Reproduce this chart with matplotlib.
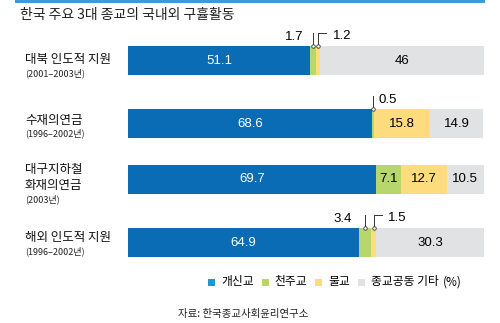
import matplotlib
matplotlib.use("Agg")
import matplotlib.pyplot as plt
from matplotlib.patches import Rectangle

plt.rcParams['font.family'] = ['Noto Sans CJK KR', 'DejaVu Sans']

W, H = 500, 323

title = "한국 주요 3대 종교의 국내외 구휼활동"
categories = ["대북 인도적 지원", "수재의연금", "대구지하철\n화재의연금", "해외 인도적 지원"]
periods = ["(2001–2003년)", "(1996–2002년)", "(2003년)", "(1996–2002년)"]
series = ["개신교", "천주교", "불교", "종교공동 기타"]
protestant = [51.1, 68.6, 69.7, 64.9]
catholic = [1.7, 0.5, 7.1, 3.4]
buddhist = [1.2, 15.8, 12.7, 1.5]
other = [46, 14.9, 10.5, 30.3]
source = "자료: 한국종교사회윤리연구소"

colors = ["#0a6cb4", "#b7d66c", "#fddc7d", "#e1e2e4"]
legend_colors = ["#1b97dc", "#b7d66c", "#fddc7d", "#e1e2e4"]
num_font = ['Liberation Sans', 'DejaVu Sans']

fig = plt.figure(figsize=(W / 100, H / 100), dpi=100)

def fx(px):
    return px / W

def fy(py):
    return 1 - py / H

# bar area: pixel rows, x spans 0..100 %
ax = fig.add_axes([fx(128), 0, fx(484) - fx(128), 1])
ax.set_xlim(0, 100)
ax.set_ylim(H, 0)
ax.axis("off")

centers = [60.5, 123.5, 179, 242.5]
bar_h = 29

data = [protestant, catholic, buddhist, other]
for i, c in enumerate(centers):
    left = 0
    for j, vals in enumerate(data):
        v = vals[i]
        ax.barh(c, v, left=left, height=bar_h, color=colors[j], linewidth=0)
        left += v

# labels inside the segments
def inside(i, j, txt_color="black"):
    left = sum(data[k][i] for k in range(j))
    ax.text(left + data[j][i] / 2, centers[i] + 0.5, f"{data[j][i]:g}",
            ha="center", va="center", fontsize=9.5, color=txt_color,
            family=num_font)

for i in range(4):
    inside(i, 0, "white")
    inside(i, 3)
inside(1, 2)
inside(2, 1)
inside(2, 2)

# callouts for thin segments
def seg_mid(i, j):
    return sum(data[k][i] for k in range(j)) + data[j][i] / 2

def straight(i, j, lx, ha):
    x = seg_mid(i, j)
    y0 = centers[i] - bar_h / 2
    ax.plot([x, x], [y0 - 13, y0], color="#333333", lw=0.7)
    ax.plot(x, y0, "o", ms=2.5, mfc="white", mec="#333333", mew=0.6)
    ax.text(lx, y0 - 9, f"{data[j][i]:g}", ha=ha, va="center", fontsize=9.5,
            family=num_font)

def elbow(i, j, lx):
    x = seg_mid(i, j)
    y0 = centers[i] - bar_h / 2
    ax.plot([x + 2.3, x, x], [y0 - 13, y0 - 13, y0], color="#333333", lw=0.7)
    ax.plot(x, y0, "o", ms=2.5, mfc="white", mec="#333333", mew=0.6)
    ax.text(lx, y0 - 10, f"{data[j][i]:g}", ha="left", va="center", fontsize=9.5,
            family=num_font)

straight(0, 1, 49.3, "right")
elbow(0, 2, 57.7)
straight(1, 1, 70.5, "left")
straight(3, 1, 63.0, "right")
elbow(3, 2, 73.0)

# top rule and title
fig.add_artist(Rectangle((fx(15), fy(3)), fx(485) - fx(15), 3 / H,
                         transform=fig.transFigure, color="#3b9ad8", lw=0))
fig.text(fx(20), fy(15), title, fontsize=10, va="center", ha="left", color="#222222")

# category labels: one row per line, then the period
line_y = [[60], [120], [170, 186], [238]]
for i, (cat, per) in enumerate(zip(categories, periods)):
    for ly, part in zip(line_y[i], cat.split("\n")):
        fig.text(fx(25), fy(ly), part, fontsize=9, va="center", ha="left",
                 color="#111111")
    fig.text(fx(25), fy(line_y[i][-1] + 13.5), per, fontsize=6.5, va="center",
             ha="left", color="#222222")

# legend
lx = 208
for name, col in zip(series, legend_colors):
    fig.add_artist(Rectangle((fx(lx), fy(285.5)), 7 / W, 7 / H,
                             transform=fig.transFigure, color=col, lw=0))
    t = fig.text(fx(lx + 13), fy(282), name, fontsize=8.5, va="center", ha="left")
    fig.canvas.draw()
    bb = t.get_window_extent()
    lx = bb.x1 + 8
fig.text(fx(lx - 4), fy(282), "(%)", fontsize=8.5, va="center", ha="left")

fig.text(fx(178), fy(314), source, fontsize=7.5, va="center", ha="left", color="#222222")

fig.savefig("out.png", dpi=100)
